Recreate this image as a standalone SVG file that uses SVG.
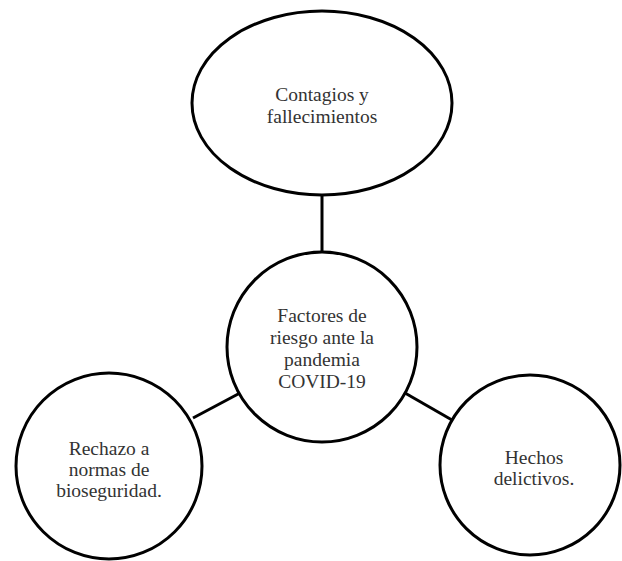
<svg xmlns="http://www.w3.org/2000/svg" width="622" height="561" viewBox="0 0 622 561">
<style>
.n{fill:#fff;stroke:#000;stroke-width:3}
.c{stroke:#000;stroke-width:3;fill:none}
text{font-family:"Liberation Serif","Times New Roman",serif;font-size:19.5px;fill:#333;text-anchor:middle}
</style>
<rect width="622" height="561" fill="#fff"/>
<g id="connectors">
<line class="c" x1="322" y1="195" x2="322" y2="253"/>
<line class="c" x1="193" y1="418" x2="240" y2="393"/>
<line class="c" x1="405" y1="393" x2="452" y2="420"/>
</g>
<g id="top">
<ellipse class="n" cx="322" cy="103" rx="130" ry="92"/>
<text x="322" y="101">Contagios y</text>
<text x="322" y="123">fallecimientos</text>
</g>
<g id="center">
<circle class="n" cx="322" cy="347" r="95"/>
<text x="322" y="322">Factores de</text>
<text x="322" y="344">riesgo ante la</text>
<text x="322" y="366">pandemia</text>
<text x="322" y="388">COVID-19</text>
</g>
<g id="left">
<circle class="n" cx="109" cy="466" r="93"/>
<text x="109" y="455">Rechazo a</text>
<text x="109" y="476">normas de</text>
<text x="109" y="497">bioseguridad.</text>
</g>
<g id="right">
<circle class="n" cx="530" cy="465" r="90"/>
<text x="534" y="464">Hechos</text>
<text x="534" y="485">delictivos.</text>
</g>
</svg>
